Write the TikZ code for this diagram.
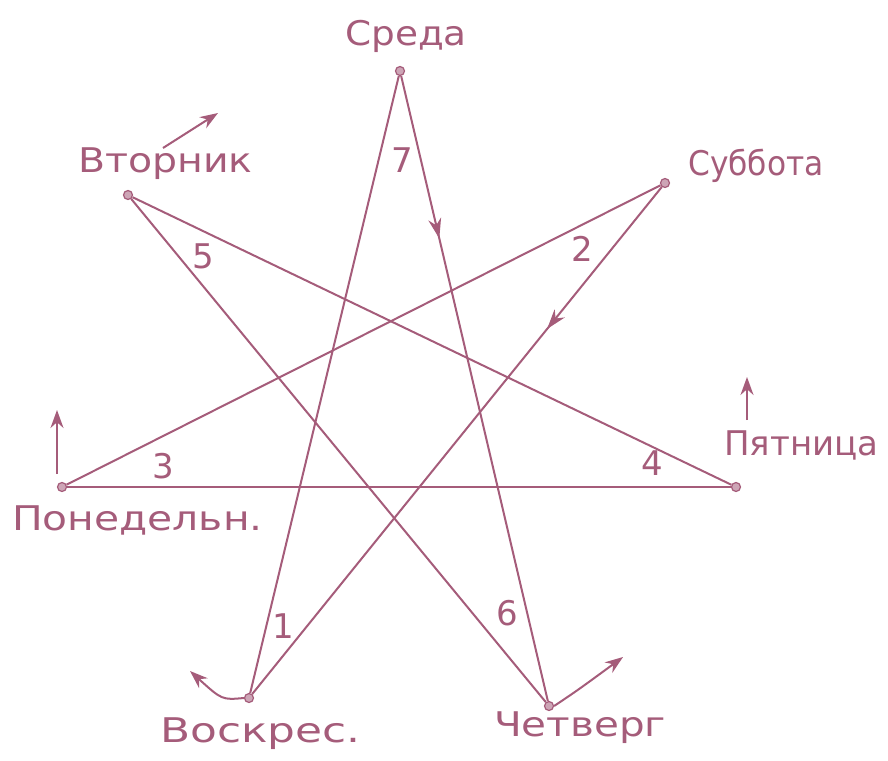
\documentclass[tikz,border=0pt]{standalone}
\usepackage{fontspec}
\setmainfont{DejaVu Sans}
\usetikzlibrary{arrows.meta,decorations.markings}
\definecolor{ink}{RGB}{165,92,122}
\newcommand\wide[2]{\scalebox{#1}[1]{#2}}
\begin{document}
\begin{tikzpicture}[x=1pt,y=-1pt,
  edge/.style={draw=ink,line width=2pt},
  dot/.style={circle,draw=ink,fill=ink!55,line width=1.2pt,inner sep=0pt,minimum size=9pt},
  lbl/.style={text=ink,font=\fontsize{34}{38}\selectfont,inner sep=0pt},
  num/.style={text=ink,font=\fontsize{34}{38}\selectfont,inner sep=0pt},
  tipstyle/.style={-{Stealth[length=18pt,width=13pt]}},
  midarrow/.style={postaction={decorate},decoration={markings,mark=at position #1 with {\arrow{Stealth[length=20pt,width=13pt]}}}}
]
\useasboundingbox (0,0) rectangle (888,760);
% vertices
\node[dot] (wed) at (400,71) {};
\node[dot] (sat) at (665,183) {};
\node[dot] (fri) at (736,487) {};
\node[dot] (thu) at (549,706) {};
\node[dot] (sun) at (249,698) {};
\node[dot] (mon) at (62,487) {};
\node[dot] (tue) at (128,195) {};
% star edges
\draw[edge] (wed) -- (sun);
\draw[edge,midarrow=0.26] (wed) -- (thu);
\draw[edge] (tue) -- (thu);
\draw[edge] (tue) -- (fri);
\draw[edge] (sat) -- (mon);
\draw[edge,midarrow=0.28] (sat) -- (sun);
\draw[edge] (mon) -- (fri);
% labels
\node[lbl,anchor=base west] (lwed) at (345,46) {\wide{1.1}{Среда}};
\node[lbl,anchor=base west] (lsat) at (688,175) {\wide{0.92}{Суббота}};
\node[lbl,anchor=base west] (ltue) at (78,172) {\wide{1.16}{Вторник}};
\node[lbl,anchor=base west] (lmon) at (12,530) {\wide{1.2}{Понедельн.}};
\node[lbl,anchor=base west] (lfri) at (724,455) {\wide{1.0}{Пятница}};
\node[lbl,anchor=base west] (lthu) at (494,736) {\wide{1.19}{Четверг}};
\node[lbl,anchor=base west] (lsun) at (160,742) {\wide{1.29}{Воскрес.}};
% numbers
\node[num] (n7) at (402,160) {7};
\node[num] (n5) at (203,256) {5};
\node[num] (n3) at (163,466) {3};
\node[num] (n4) at (652,463) {4};
\node[num] (n1) at (283,626) {1};
\node[num] (n6) at (507,613) {6};
\node[num] (n2) at (582,249) {2};
% outer arrows
\coordinate (monS) at (57,474);
\coordinate (monT) at (57,410);
\coordinate (tueS) at (163,148);
\coordinate (tueT) at (218,113);
\coordinate (friS) at (747,420);
\coordinate (friT) at (747,377);
\coordinate (sunT) at (190,671);
\coordinate (thuT) at (623,657);
\draw[edge,tipstyle] (monS) -- (monT);
\draw[edge,tipstyle] (tueS) -- (tueT);
\draw[edge,tipstyle] (friS) -- (friT);
\draw[edge,tipstyle] (sun.west) .. controls (222,700) .. (sunT);
\draw[edge,tipstyle] (thu.east) .. controls (578,690) .. (thuT);
\end{tikzpicture}
\end{document}
